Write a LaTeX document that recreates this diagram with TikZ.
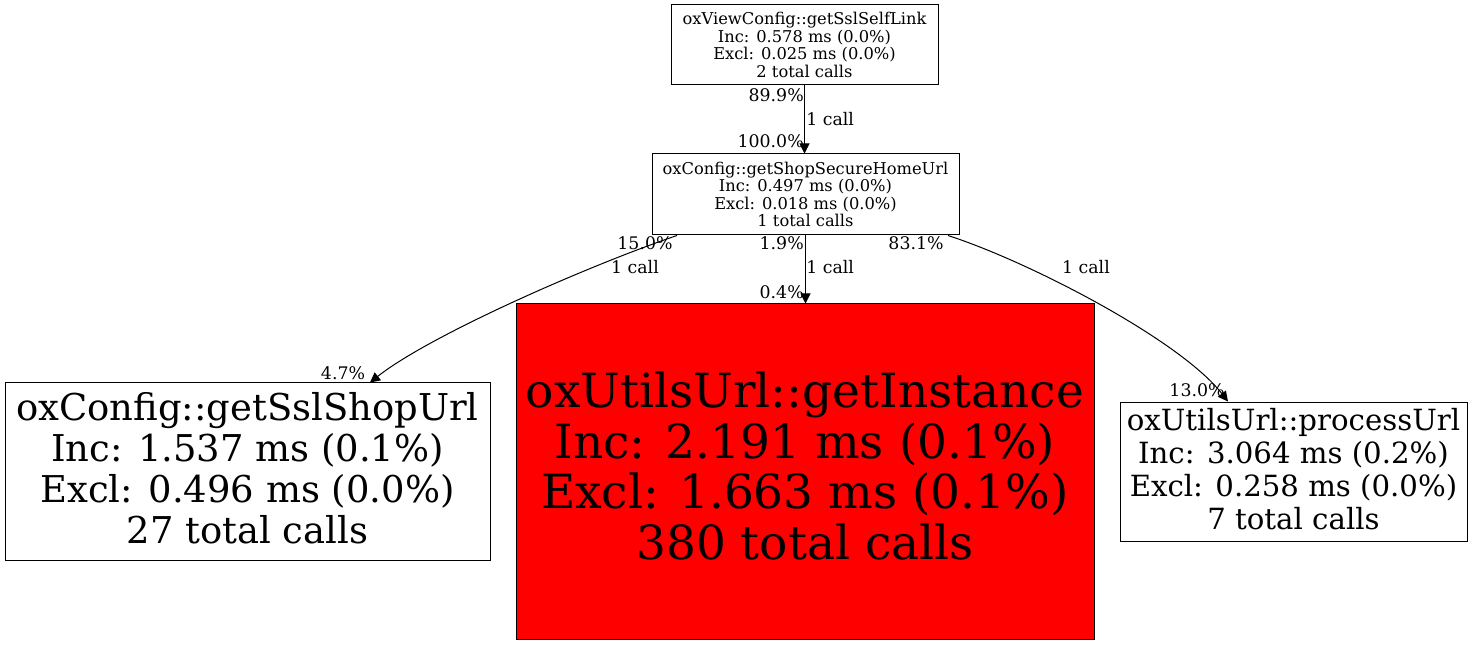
\documentclass[tikz,border=0pt]{standalone}
\usepackage{fontspec}
\setmainfont{DejaVu Serif}
\usetikzlibrary{arrows.meta,calc}
\begin{document}
\begin{tikzpicture}[x=0.75pt,y=-0.75pt,
  box/.style={draw=black, line width=0.75pt, inner sep=0pt, align=center, fill=white},
  small/.style={font=\fontsize{12.2}{13.1}\selectfont},
  lab/.style={font=\fontsize{13}{14}\selectfont, inner sep=0pt},
  conn/.style={line width=0.75pt, -{Triangle[length=7.5pt,width=7.5pt]}}]
\useasboundingbox (0,0) rectangle (1475,645);
\node[box,small,minimum width=200.25pt,minimum height=60pt] (top) at (804.5,45)
  {oxViewConfig::getSslSelfLink\\Inc: 0.578 ms (0.0\%)\\Excl: 0.025 ms (0.0\%)\\2 total calls};
\node[box,small,minimum width=230.25pt,minimum height=60.75pt] (mid) at (805.5,194.5)
  {oxConfig::getShopSecureHomeUrl\\Inc: 0.497 ms (0.0\%)\\Excl: 0.018 ms (0.0\%)\\1 total calls};
\node[box,minimum width=363.75pt,minimum height=132.75pt] (left) at (247.5,471.5) {};
\node[font=\fontsize{27.7}{30.75}\selectfont,align=center,inner sep=0pt] (leftt) at (247.5,468)
  {oxConfig::getSslShopUrl\\Inc: 1.537 ms (0.1\%)\\Excl: 0.496 ms (0.0\%)\\27 total calls};
\node[box,fill=red,minimum width=433.5pt,minimum height=251.25pt] (red) at (805,471.5) {};
\node[font=\fontsize{35.3}{38}\selectfont,align=center,inner sep=0pt] (redt) at (805,466)
  {oxUtilsUrl::getInstance\\Inc: 2.191 ms (0.1\%)\\Excl: 1.663 ms (0.1\%)\\380 total calls};
\node[box,minimum width=260.25pt,minimum height=104.25pt] (right) at (1293.5,471.5) {};
\node[font=\fontsize{21.9}{24.75}\selectfont,align=center,inner sep=0pt] (rightt) at (1293.5,469)
  {oxUtilsUrl::processUrl\\Inc: 3.064 ms (0.2\%)\\Excl: 0.258 ms (0.0\%)\\7 total calls};

\draw[conn] (top.south) -- (top.south |- mid.north);
\draw[conn] (mid.south) -- (mid.south |- red.north);
\draw[conn] ($(mid.south)+(-128.5,0)$) .. controls (590,265) and (430,335) .. ($(left.north)+(122.5,0)$);
\draw[conn] ($(mid.south)+(142.5,0)$) .. controls (1030,262) and (1180,340) .. ($(right.north)+(-65.5,0)$);

\node[lab,anchor=east] (a1) at (804,95) {89.9\%};
\node[lab,anchor=west] (a2) at (806,119) {1 call};
\node[lab,anchor=east] (a3) at (804,141) {100.0\%};
\node[lab] (b1) at (645,243) {15.0\%};
\node[lab] (b2) at (635,267) {1 call};
\node[lab] (b3) at (343,373) {4.7\%};
\node[lab,anchor=east] (c1) at (804,243) {1.9\%};
\node[lab,anchor=west] (c2) at (806,267) {1 call};
\node[lab,anchor=east] (c3) at (804,292) {0.4\%};
\node[lab] (d1) at (916,243) {83.1\%};
\node[lab] (d2) at (1086,267) {1 call};
\node[lab] (d3) at (1197,390) {13.0\%};
\end{tikzpicture}
\end{document}
